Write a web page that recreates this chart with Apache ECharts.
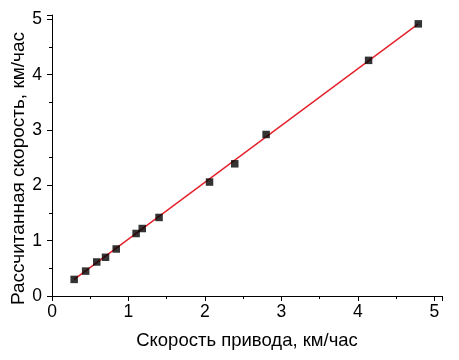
<!DOCTYPE html>
<html><head><meta charset="utf-8">
<script src="https://cdn.jsdelivr.net/npm/echarts@6/dist/echarts.min.js"></script>
<style>html,body{margin:0;padding:0;background:#fff}#c{width:459px;height:360px}</style>
</head><body><div id="c"></div>
<script>
const xTitle = 'Скорость привода, км/час';
const yTitle = 'Рассчитанная скорость, км/час';
const driveSpeed = [0.29, 0.44, 0.585, 0.70, 0.84, 1.10, 1.18, 1.40, 2.06, 2.39, 2.80, 4.14, 4.79];
const calcSpeed  = [0.30, 0.45, 0.615, 0.70, 0.85, 1.13, 1.22, 1.42, 2.06, 2.39, 2.92, 4.26, 4.92];
const fitX = [0.29, 4.79];
const fitY = [0.30, 4.92];

const font = 'Liberation Sans, Arial, sans-serif';
const chart = echarts.init(document.getElementById('c'));
const axisCommon = {
  type: 'value', min: 0, max: 5.08, interval: 1,
  nameLocation: 'middle', nameMoveOverlap: false,
  nameTextStyle: {fontFamily: font, fontSize: 18.5, color: '#000'},
  axisLine: {show: true, onZero: false, lineStyle: {color: '#000', width: 1}},
  axisTick: {show: true, inside: false, length: 5, lineStyle: {color: '#000'}},
  minorTick: {show: true, splitNumber: 2, length: 3, lineStyle: {color: '#000'}},
  splitLine: {show: false},
  axisLabel: {fontFamily: font, fontSize: 17.5, color: '#000', showMaxLabel: true,
    formatter: v => (Math.abs(v - Math.round(v)) < 1e-9 ? String(Math.round(v)) : '')}
};
chart.setOption({
  animation: false,
  grid: {left: 52, right: 17, top: 15, bottom: 64, containLabel: false, outerBoundsMode: 'none'},
  xAxis: Object.assign({}, axisCommon, {name: xTitle, nameGap: 35, max: 5.1,
    axisLabel: Object.assign({}, axisCommon.axisLabel, {margin: 7})}),
  yAxis: Object.assign({}, axisCommon, {name: yTitle, nameGap: 24,
    nameTextStyle: Object.assign({}, axisCommon.nameTextStyle, {fontSize: 19, padding: [0, 26, 0, 0]}),
    axisLabel: Object.assign({}, axisCommon.axisLabel, {margin: 10})}),
  series: [
    {type: 'line', data: fitX.map((x, i) => [x, fitY[i]]), symbol: 'none',
      lineStyle: {color: '#e4202a', width: 1.4}, z: 2},
    {type: 'scatter', data: driveSpeed.map((x, i) => [x, calcSpeed[i]]),
      symbol: 'rect', symbolSize: 7.5, itemStyle: {color: '#000'}, z: 3}
  ]
});
</script></body></html>
